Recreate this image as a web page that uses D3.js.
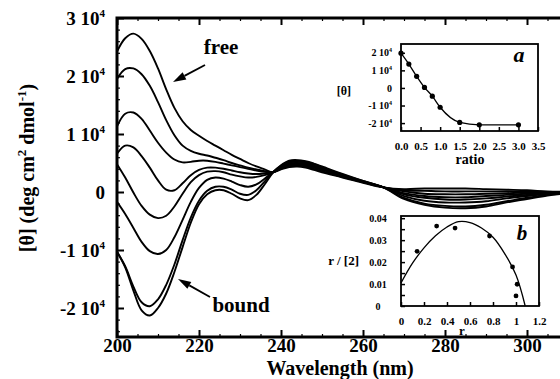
<!DOCTYPE html>
<html>
<head>
<meta charset="utf-8">
<script src="https://cdn.jsdelivr.net/npm/d3@7"></script>
<style>
  body { margin: 0; background: #fff; }
  svg { display: block; }
  text { font-family: "Liberation Serif", "Times New Roman", serif; font-weight: bold; fill: #000; }
</style>
</head>
<body>
<div class="chart"></div>
<script>
// main panel: wavelength (nm) and ellipticity in units of 10^3 deg cm2 dmol-1
const wavelengths = [200,202,204,206,208,210,212,214,216,218,220,222,224,226,228,230,232,234,236,238,240,242,244,246,248,250,255,260,265,270,275,280,285,290,295,300,305,310];
const spec1 = [24.2,26.5,27.3,26.4,24.3,21.3,17.7,14.5,12.2,10.7,9.7,8.8,8.0,7.2,6.4,5.7,5.0,4.4,3.9,3.4,3.9,4.3,4.4,4.2,3.8,3.4,2.5,1.6,0.8,0.5,0.6,0.6,0.6,0.5,0.4,0.3,0.1,0.0];
const spec2 = [19.5,21.2,21.3,20.3,18.3,15.5,12.4,9.8,8.0,7.1,6.6,6.3,5.9,5.5,5.0,4.6,4.2,3.9,3.6,3.4,4.0,4.5,4.6,4.4,4.0,3.6,2.6,1.7,0.8,0.3,0.2,0.1,0.1,0.1,0.1,0.1,0.0,0.0];
const spec3 = [11.3,13.5,13.7,12.6,10.6,8.5,6.8,5.6,5.1,5.2,5.4,5.4,5.2,4.9,4.6,4.3,4.0,3.7,3.5,3.4,4.1,4.7,4.8,4.6,4.2,3.8,2.7,1.7,0.8,0.1,-0.3,-0.4,-0.4,-0.3,-0.2,-0.1,-0.1,0.0];
const spec4 = [6.6,8.0,7.7,6.2,4.2,2.0,0.4,0.3,1.5,2.9,3.8,4.2,4.2,4.0,3.7,3.4,3.2,3.1,3.2,3.4,4.2,4.8,4.9,4.7,4.3,3.9,2.8,1.8,0.8,-0.2,-0.7,-0.9,-0.9,-0.7,-0.5,-0.3,-0.2,0.0];
const spec5 = [4.8,2.5,-0.1,-2.4,-3.9,-4.5,-4.1,-2.5,-0.3,1.7,2.9,3.5,3.6,3.4,3.0,2.7,2.5,2.6,2.9,3.4,4.3,4.9,5.0,4.8,4.4,4.0,2.8,1.8,0.8,-0.4,-1.0,-1.3,-1.3,-1.1,-0.8,-0.5,-0.2,-0.1];
const spec6 = [-1.7,-3.8,-6.2,-8.6,-10.2,-10.7,-10.0,-7.8,-4.8,-1.7,0.7,2.1,2.5,2.3,1.8,1.2,0.9,1.3,2.3,3.4,4.4,5.1,5.2,5.0,4.6,4.1,2.9,1.8,0.8,-0.7,-1.5,-1.8,-1.8,-1.6,-1.1,-0.7,-0.3,-0.1];
const spec7 = [-10.3,-12.8,-16.3,-19.0,-19.7,-18.5,-16.0,-12.5,-8.3,-4.4,-1.5,0.2,0.9,0.9,0.4,-0.3,-0.5,0.3,1.8,3.4,4.5,5.3,5.4,5.2,4.8,4.3,3.0,1.9,0.8,-1.0,-2.0,-2.4,-2.5,-2.2,-1.6,-1.0,-0.5,-0.2];
const spec8 = [-10.3,-13.0,-17.0,-20.4,-21.3,-20.0,-17.5,-13.8,-9.5,-5.3,-2.1,-0.4,0.3,0.3,-0.3,-1.1,-1.4,-0.5,1.3,3.3,4.6,5.4,5.5,5.3,4.9,4.4,3.1,1.9,0.8,-1.2,-2.2,-2.7,-2.8,-2.5,-1.8,-1.2,-0.6,-0.2];
const spectra = [spec1, spec2, spec3, spec4, spec5, spec6, spec7, spec8];
const xTicks = [200, 220, 240, 260, 280, 300];
const yTicks = [-20, -10, 0, 10, 20, 30];

// inset a: [theta] (10^3) against ratio
const ratioVals = [0, 0.2, 0.4, 0.6, 0.8, 1.0, 1.5, 2.0, 3.0];
const thetaVals = [19.8, 13.6, 6.6, 0.3, -4.7, -11.0, -19.6, -21.0, -21.0];
const aXTicks = [0, 0.5, 1, 1.5, 2, 2.5, 3, 3.5];
const aYTicks = [-20, -10, 0, 10, 20];

// inset b: r/[2] against r, points and fitted curve
const rVals = [0.14, 0.31, 0.47, 0.77, 0.97, 1.01, 1.0];
const rOverVals = [0.0249, 0.0364, 0.0355, 0.0319, 0.0178, 0.0099, 0.0046];
const fitR = [0, 0.1, 0.2, 0.3, 0.4, 0.5, 0.6, 0.7, 0.8, 0.9, 1.0, 1.08];
const fitVals = [0.0105, 0.0195, 0.0265, 0.032, 0.036, 0.0384, 0.038, 0.0355, 0.0313, 0.024, 0.0141, 0.0];
const bXTicks = [0, 0.2, 0.4, 0.6, 0.8, 1, 1.2];
const bYTicks = [0, 0.01, 0.02, 0.03, 0.04];

const width = 560;
const height = 379;

const svg = d3.select(".chart").append("svg")
  .attr("width", width)
  .attr("height", height);

// ---------- main panel ----------
const x = d3.scaleLinear().domain([200, 310]).range([117, 568]);
const y = d3.scaleLinear().domain([-25, 30]).range([337, 18]);

svg.append("clipPath").attr("id", "plotclip")
  .append("rect").attr("x", 117).attr("y", 18).attr("width", 460).attr("height", 319);

const line = d3.line()
  .x((d, i) => x(wavelengths[i]))
  .y(d => y(d))
  .curve(d3.curveCatmullRom.alpha(0.5));

svg.append("g").attr("clip-path", "url(#plotclip)")
  .selectAll("path")
  .data(spectra)
  .enter()
  .append("path")
  .attr("d", line)
  .attr("fill", "none")
  .attr("stroke", "#000")
  .attr("stroke-width", 1.9);

function sciLabel(sel, v) {
  sel.text(null);
  if (v === 0) { sel.text("0"); return; }
  sel.append("tspan").text((v / 10) + " 10");
  sel.append("tspan").attr("dy", -8).attr("font-size", 11).text("4");
}

// minor ticks
const yMinor = d3.range(-24, 30, 2).filter(v => v % 10 !== 0);
const xMinor = d3.range(205, 310, 5).filter(v => v % 20 !== 0);

svg.append("g").attr("transform", "translate(117,0)")
  .call(d3.axisLeft(y).tickValues(yMinor).tickSize(-3).tickFormat(""))
  .call(g => g.select(".domain").remove())
  .selectAll("line").attr("stroke-width", 1.2);
svg.append("g").attr("transform", "translate(0,337)")
  .call(d3.axisBottom(x).tickValues(xMinor).tickSize(-3).tickFormat(""))
  .call(g => g.select(".domain").remove())
  .selectAll("line").attr("stroke-width", 1.2);
svg.append("g").attr("transform", "translate(0,18)")
  .call(d3.axisTop(x).tickValues(xMinor).tickSize(-3).tickFormat(""))
  .call(g => g.select(".domain").remove())
  .selectAll("line").attr("stroke-width", 1.2);

// major ticks
const yAxis = svg.append("g").attr("transform", "translate(117,0)")
  .call(d3.axisLeft(y).tickValues(yTicks).tickSize(-7).tickPadding(12))
  .attr("font-size", 19).attr("font-family", null);
yAxis.select(".domain").remove();
yAxis.selectAll("line").attr("stroke-width", 2);
yAxis.selectAll(".tick text").each(function (d) { sciLabel(d3.select(this), d); });

const xAxis = svg.append("g").attr("transform", "translate(0,337)")
  .call(d3.axisBottom(x).tickValues(xTicks).tickSize(-7).tickPadding(0))
  .attr("font-size", 19).attr("font-family", null);
xAxis.select(".domain").remove();
xAxis.selectAll("line").attr("stroke-width", 2);
xAxis.selectAll(".tick text").attr("dy", "0.78em");

svg.append("g").attr("transform", "translate(0,18)")
  .call(d3.axisTop(x).tickValues(xTicks).tickSize(-7).tickFormat(""))
  .call(g => g.select(".domain").remove())
  .selectAll("line").attr("stroke-width", 2);

// frame
svg.append("path")
  .attr("d", "M568,18H117V337H568")
  .attr("fill", "none")
  .attr("stroke", "#000")
  .attr("stroke-width", 3);

// axis titles
svg.append("text")
  .attr("x", 340).attr("y", 374.5)
  .attr("text-anchor", "middle")
  .attr("font-size", 20)
  .text("Wavelength (nm)");

const yTitle = svg.append("text")
  .attr("transform", "translate(34,168) rotate(-90)")
  .attr("text-anchor", "middle")
  .attr("font-size", 20);
yTitle.append("tspan").text("[θ] (deg cm");
yTitle.append("tspan").attr("font-size", 13).attr("dy", -8).text("2");
yTitle.append("tspan").attr("dy", 8).text(" dmol");
yTitle.append("tspan").attr("font-size", 13).attr("dy", -8).text("-1");
yTitle.append("tspan").attr("dy", 8).text(")");

// annotations
function arrow(x1, y1, x2, y2) {
  const ang = Math.atan2(y2 - y1, x2 - x1);
  const len = 13, half = 4;
  const bx = x2 - len * Math.cos(ang), by = y2 - len * Math.sin(ang);
  svg.append("line")
    .attr("x1", x1).attr("y1", y1).attr("x2", bx).attr("y2", by)
    .attr("stroke", "#000").attr("stroke-width", 1.8);
  svg.append("path")
    .attr("d", `M${x2},${y2}L${bx + half * Math.sin(ang)},${by - half * Math.cos(ang)}L${bx - half * Math.sin(ang)},${by + half * Math.cos(ang)}Z`)
    .attr("fill", "#000");
}
svg.append("text").attr("x", 221).attr("y", 54).attr("text-anchor", "middle").attr("font-size", 21).text("free");
arrow(205, 65, 173, 82);
svg.append("text").attr("x", 241).attr("y", 312).attr("text-anchor", "middle").attr("font-size", 21).text("bound");
arrow(210, 297, 178, 279);

// ---------- inset a ----------
const ax = d3.scaleLinear().domain([0, 3.5]).range([401, 538]);
const ay = d3.scaleLinear().domain([-24.5, 25]).range([131, 44]);

svg.append("rect")
  .attr("x", 401).attr("y", 44).attr("width", 137).attr("height", 87)
  .attr("fill", "#fff").attr("stroke", "#000").attr("stroke-width", 1.8);

const aY = svg.append("g").attr("transform", "translate(401,0)")
  .call(d3.axisLeft(ay).tickValues(aYTicks).tickSize(-4).tickPadding(9))
  .attr("font-size", 10).attr("font-family", null);
aY.select(".domain").remove();
aY.selectAll("line").attr("stroke-width", 1.5);
aY.selectAll(".tick text").each(function (d) {
  const t = d3.select(this);
  t.text(null);
  if (d === 0) { t.text("0"); return; }
  t.append("tspan").text((d / 10) + " 10");
  t.append("tspan").attr("dy", -4).attr("font-size", 6).text("4");
});

const aX = svg.append("g").attr("transform", "translate(0,131)")
  .call(d3.axisBottom(ax).tickValues(aXTicks).tickSize(-4).tickPadding(11))
  .attr("font-size", 11).attr("font-family", null);
aX.select(".domain").remove();
aX.selectAll("line").attr("stroke-width", 1.5);

svg.append("path")
  .datum(thetaVals)
  .attr("d", d3.line().x((d, i) => ax(ratioVals[i])).y(d => ay(d)).curve(d3.curveMonotoneX))
  .attr("fill", "none").attr("stroke", "#000").attr("stroke-width", 1.3);

svg.append("g").selectAll("circle")
  .data(thetaVals)
  .enter().append("circle")
  .attr("cx", (d, i) => ax(ratioVals[i]))
  .attr("cy", d => ay(d))
  .attr("r", 2.6)
  .attr("fill", "#000");

svg.append("text").attr("x", 344).attr("y", 95).attr("text-anchor", "middle")
  .attr("font-size", 12).attr("font-weight", "normal").text("[θ]");
svg.append("text").attr("x", 470).attr("y", 164).attr("text-anchor", "middle")
  .attr("font-size", 14).text("ratio");
svg.append("text").attr("x", 519).attr("y", 62).attr("text-anchor", "middle")
  .attr("font-size", 22).attr("font-style", "italic").text("a");

// ---------- inset b ----------
const bx = d3.scaleLinear().domain([0, 1.2]).range([401, 539]);
const by = d3.scaleLinear().domain([0, 0.041]).range([306, 216]);

svg.append("rect")
  .attr("x", 401).attr("y", 216).attr("width", 138).attr("height", 90)
  .attr("fill", "#fff").attr("stroke", "#000").attr("stroke-width", 1.8);

const bY = svg.append("g").attr("transform", "translate(401,0)")
  .call(d3.axisLeft(by).tickValues(d3.range(0, 0.0401, 0.005)).tickSize(-4).tickFormat(""))
  .attr("font-size", 10).attr("font-family", null);
bY.select(".domain").remove();
bY.selectAll("line").attr("stroke-width", 1.5);

svg.append("g").selectAll("text")
  .data(bYTicks)
  .enter().append("text")
  .attr("x", 378).attr("y", d => by(d) + 3.5)
  .attr("text-anchor", "middle")
  .attr("font-size", 10)
  .text(d => d === 0 ? "0" : d.toFixed(2));

const bX = svg.append("g").attr("transform", "translate(0,306)")
  .call(d3.axisBottom(bx).tickValues(bXTicks).tickSize(-4).tickPadding(11).tickFormat(d => d))
  .attr("font-size", 11).attr("font-family", null);
bX.select(".domain").remove();
bX.selectAll("line").attr("stroke-width", 1.5);

svg.append("path")
  .datum(fitVals)
  .attr("d", d3.line().x((d, i) => bx(fitR[i])).y(d => by(d)).curve(d3.curveCatmullRom.alpha(0.5)))
  .attr("fill", "none").attr("stroke", "#000").attr("stroke-width", 1.3);

svg.append("g").selectAll("circle")
  .data(rOverVals)
  .enter().append("circle")
  .attr("cx", (d, i) => bx(rVals[i]))
  .attr("cy", d => by(d))
  .attr("r", 2.4)
  .attr("fill", "#000");

svg.append("text").attr("x", 359).attr("y", 265).attr("text-anchor", "end")
  .attr("font-size", 13).text("r / [2]");
svg.append("text").attr("x", 462).attr("y", 335).attr("text-anchor", "middle")
  .attr("font-size", 13).text("r");
svg.append("text").attr("x", 522).attr("y", 240).attr("text-anchor", "middle")
  .attr("font-size", 21).attr("font-style", "italic").text("b");
</script>
</body>
</html>
